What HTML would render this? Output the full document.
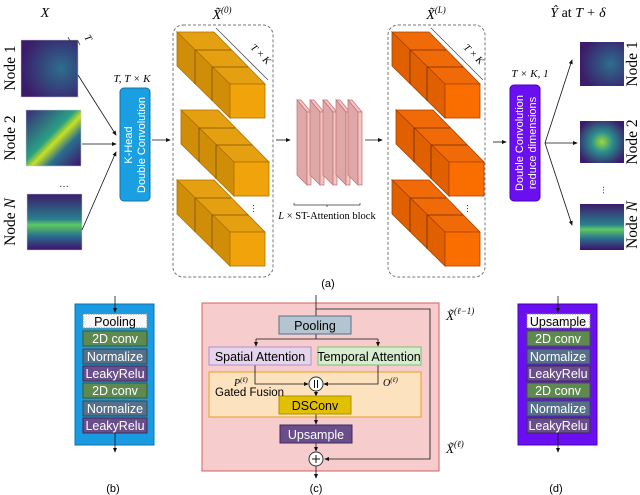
<!DOCTYPE html>
<html><head><meta charset="utf-8"><style>
body{margin:0;background:#fff}
svg{display:block;font-family:"Liberation Sans",sans-serif}
.m{font-family:"Liberation Serif",serif;font-style:italic}
</style></head><body>
<svg width="640" height="495" viewBox="0 0 640 495" xmlns="http://www.w3.org/2000/svg">
<defs>
<marker id="a" markerWidth="6" markerHeight="6" refX="5" refY="3" orient="auto"><path d="M0,0.5L6,3L0,5.5z" fill="#111"/></marker>
<radialGradient id="h1" cx="0.7" cy="0.5" r="0.7"><stop offset="0" stop-color="#2d6e8e"/><stop offset="1" stop-color="#3b1c6a"/></radialGradient>
<linearGradient id="h2" x1="0" y1="0" x2="1" y2="1"><stop offset="0" stop-color="#3a2a78"/><stop offset="0.45" stop-color="#2aa083"/><stop offset="0.55" stop-color="#c8e020"/><stop offset="0.7" stop-color="#2a6f8e"/><stop offset="1" stop-color="#40106a"/></linearGradient>
<linearGradient id="h3" x1="0" y1="0" x2="0" y2="1"><stop offset="0" stop-color="#3b1c6a"/><stop offset="0.45" stop-color="#2a7f8e"/><stop offset="0.55" stop-color="#5ec962"/><stop offset="0.75" stop-color="#2a6f8e"/><stop offset="1" stop-color="#40106a"/></linearGradient>
<radialGradient id="h4" cx="0.5" cy="0.5" r="0.6"><stop offset="0" stop-color="#9fd93a"/><stop offset="0.4" stop-color="#2a8f8e"/><stop offset="1" stop-color="#3b1c6a"/></radialGradient>
</defs>

<!-- (a) -->
<text x="45" y="17" class="m" font-size="14" text-anchor="middle">X</text>
<g stroke="#ccc" stroke-width="0.5">
<rect x="33" y="51" width="45" height="46" fill="#3b1c6a"/><rect x="29" y="47" width="45" height="46" fill="#3b1c6a"/><rect x="25" y="43" width="45" height="46" fill="#3b1c6a"/>
<rect x="21" y="40" width="57" height="57" fill="url(#h1)"/>
<rect x="38" y="122" width="43" height="44" fill="#3b1c6a"/><rect x="34" y="118" width="43" height="44" fill="#3b1c6a"/><rect x="30" y="114" width="43" height="44" fill="#3b1c6a"/><rect x="26" y="110" width="55" height="56" fill="url(#h2)"/>
<rect x="38" y="205" width="43" height="44" fill="#3b1c6a"/><rect x="34" y="201" width="43" height="44" fill="#3b1c6a"/><rect x="27" y="194" width="55" height="56" fill="url(#h3)"/>
</g>
<path d="M68,37 l2,4 h8 l2,4" fill="none" stroke="#333" stroke-width="0.8"/>
<text x="84" y="37" class="m" font-size="10" transform="rotate(60 84 37)">T</text>
<text x="64" y="187" font-size="10" text-anchor="middle">…</text>
<g font-family="Liberation Serif" font-size="15.5">
<text transform="translate(15,68) rotate(-90)" text-anchor="middle">Node 1</text>
<text transform="translate(15,138) rotate(-90)" text-anchor="middle">Node 2</text>
<text transform="translate(15,222) rotate(-90)" text-anchor="middle">Node <tspan font-style="italic">N</tspan></text>
<text transform="translate(637,64) rotate(-90)" text-anchor="middle">Node 1</text>
<text transform="translate(637,142) rotate(-90)" text-anchor="middle">Node 2</text>
<text transform="translate(637,225) rotate(-90)" text-anchor="middle">Node <tspan font-style="italic">N</tspan></text>
</g>
<g stroke="#111" stroke-width="0.8" marker-end="url(#a)" fill="none">
<line x1="78" y1="75" x2="116" y2="135"/>
<line x1="82" y1="144" x2="116" y2="144"/>
<line x1="82" y1="230" x2="116" y2="152"/>
<line x1="152" y1="140" x2="170" y2="140"/>
<line x1="276" y1="140" x2="290" y2="140"/>
<line x1="365" y1="140" x2="382" y2="140"/>
<line x1="493" y1="142" x2="506" y2="142"/>
<path d="M545,143 L572,60" /><path d="M545,143 L577,143"/><path d="M545,143 L572,225"/>
</g>
<text x="132" y="82" class="m" font-size="11" text-anchor="middle">T, T × K</text>
<rect x="120" y="88" width="30" height="113" rx="4" fill="#1aa0e0" stroke="#1670b0"/>
<text transform="translate(132,145) rotate(-90)" fill="#fff" font-size="11" text-anchor="middle">K-Head</text>
<text transform="translate(145,145) rotate(-90)" fill="#fff" font-size="11" text-anchor="middle">Double Convolution</text>

<text x="222" y="19" class="m" font-size="14" text-anchor="middle">X̃<tspan font-size="9" dy="-6">(0)</tspan></text>
<rect x="173" y="25" width="100" height="252" rx="10" fill="none" stroke="#777" stroke-dasharray="3,2"/>
<g stroke="#b07000" stroke-width="0.8">
<g>
<polygon points="177,32 214,32 265,84 230,84" fill="#e4a010"/>
<polygon points="177,32 230,84 230,118 177,66" fill="#d08e08"/>
<rect x="230" y="84" width="35" height="34" fill="#f0a30a"/>
<path d="M195,50 v34 M212,67 v34 M195,50 h36 M212,67 h36" stroke="#7a5000" fill="none"/>
</g>
<g transform="translate(4,78)">
<polygon points="177,32 214,32 265,84 230,84" fill="#e4a010"/>
<polygon points="177,32 230,84 230,118 177,66" fill="#d08e08"/>
<rect x="230" y="84" width="35" height="34" fill="#f0a30a"/>
<path d="M195,50 v34 M212,67 v34 M195,50 h36 M212,67 h36" stroke="#7a5000" fill="none"/>
</g>
<g transform="translate(0,148)">
<polygon points="177,32 214,32 265,84 230,84" fill="#e4a010"/>
<polygon points="177,32 230,84 230,118 177,66" fill="#d08e08"/>
<rect x="230" y="84" width="35" height="34" fill="#f0a30a"/>
<path d="M195,50 v34 M212,67 v34 M195,50 h36 M212,67 h36" stroke="#7a5000" fill="none"/>
</g>
</g>
<path d="M216,28 l52,52" stroke="#555" fill="none" stroke-width="0.8"/>
<text x="250" y="48" class="m" font-size="10" transform="rotate(45 250 48)">T × K</text>
<text x="254" y="213" font-size="9" transform="rotate(-90 254 213)">…</text>

<!-- pink stack -->
<g fill="#f5c4c4" stroke="#c07070" stroke-width="0.7">
<g><polygon points="297,100 301,100 311,112 307,112"/><polygon points="297,100 307,112 307,185 297,175" fill="#dfa8a8"/><rect x="307" y="112" width="4" height="73"/></g>
<g transform="translate(13,0)"><polygon points="297,100 301,100 311,112 307,112"/><polygon points="297,100 307,112 307,185 297,175" fill="#dfa8a8"/><rect x="307" y="112" width="4" height="73"/></g>
<g transform="translate(26,0)"><polygon points="297,100 301,100 311,112 307,112"/><polygon points="297,100 307,112 307,185 297,175" fill="#dfa8a8"/><rect x="307" y="112" width="4" height="73"/></g>
<g transform="translate(39,0)"><polygon points="297,100 301,100 311,112 307,112"/><polygon points="297,100 307,112 307,185 297,175" fill="#dfa8a8"/><rect x="307" y="112" width="4" height="73"/></g>
<g transform="translate(51,0)"><polygon points="297,100 301,100 311,112 307,112"/><polygon points="297,100 307,112 307,185 297,175" fill="#dfa8a8"/><rect x="307" y="112" width="4" height="73"/></g>
</g>
<path d="M294,203 v2 h66 v-2 M327,205 v2" stroke="#333" fill="none" stroke-width="0.7"/>
<text x="327" y="219" font-family="Liberation Serif" font-size="10.5" text-anchor="middle"><tspan font-style="italic">L</tspan> × ST-Attention block</text>

<text x="436" y="19" class="m" font-size="14" text-anchor="middle">X̃<tspan font-size="9" dy="-6">(L)</tspan></text>
<rect x="388" y="25" width="97" height="252" rx="10" fill="none" stroke="#777" stroke-dasharray="3,2"/>
<g stroke="#a84000" stroke-width="0.8">
<g transform="translate(215,0)">
<polygon points="177,32 214,32 265,84 230,84" fill="#f06a08"/>
<polygon points="177,32 230,84 230,118 177,66" fill="#e06000"/>
<rect x="230" y="84" width="35" height="34" fill="#fa6e00"/>
<path d="M195,50 v34 M212,67 v34 M195,50 h36 M212,67 h36" stroke="#6a2a00" fill="none"/>
</g>
<g transform="translate(219,78)">
<polygon points="177,32 214,32 265,84 230,84" fill="#f06a08"/>
<polygon points="177,32 230,84 230,118 177,66" fill="#e06000"/>
<rect x="230" y="84" width="35" height="34" fill="#fa6e00"/>
<path d="M195,50 v34 M212,67 v34 M195,50 h36 M212,67 h36" stroke="#6a2a00" fill="none"/>
</g>
<g transform="translate(215,148)">
<polygon points="177,32 214,32 265,84 230,84" fill="#f06a08"/>
<polygon points="177,32 230,84 230,118 177,66" fill="#e06000"/>
<rect x="230" y="84" width="35" height="34" fill="#fa6e00"/>
<path d="M195,50 v34 M212,67 v34 M195,50 h36 M212,67 h36" stroke="#6a2a00" fill="none"/>
</g>
</g>
<path d="M431,28 l52,52" stroke="#555" fill="none" stroke-width="0.8"/>
<text x="463" y="48" class="m" font-size="10" transform="rotate(45 463 48)">T × K</text>
<text x="468" y="213" font-size="9" transform="rotate(-90 468 213)">…</text>

<text x="530" y="77" class="m" font-size="11" text-anchor="middle">T × K, 1</text>
<rect x="510" y="85" width="30" height="116" rx="4" fill="#6a10f0" stroke="#4a00c0"/>
<text transform="translate(523,143) rotate(-90)" fill="#fff" font-size="11" text-anchor="middle">Double Convolution</text>
<text transform="translate(536,143) rotate(-90)" fill="#fff" font-size="11" text-anchor="middle">reduce dimensions</text>

<text x="578" y="17" class="m" font-size="14" text-anchor="middle">Ŷ <tspan font-style="normal">at</tspan> T + δ</text>
<rect x="580" y="42" width="44" height="44" fill="url(#h1)"/>
<rect x="580" y="121" width="44" height="42" fill="url(#h4)"/>
<rect x="580" y="204" width="44" height="46" fill="url(#h3)"/>
<text x="602" y="192" font-size="9" text-anchor="middle" transform="rotate(-90 602 190)">…</text>
<text x="328" y="287" font-size="11" text-anchor="middle">(a)</text>

<!-- (b) (d) -->
<g font-size="12.5" text-anchor="middle">
<rect x="75" y="304" width="79" height="141" fill="#1a9ae0" stroke="#1070b0"/>
<rect x="83" y="314" width="64" height="14" fill="#f8f8f8" stroke="#888" stroke-dasharray="1.5,1"/><text x="115" y="326">Pooling</text>
<rect x="83" y="331" width="64" height="15" fill="#5e8a50" stroke="#3a5a30"/><text x="115" y="343" fill="#fff">2D conv</text>
<rect x="83" y="349" width="64" height="15" fill="#56708a" stroke="#34485a"/><text x="115" y="361" fill="#fff">Normalize</text>
<rect x="83" y="366" width="64" height="15" fill="#6a4e8c" stroke="#3e2a5a"/><text x="115" y="378" fill="#fff">LeakyRelu</text>
<rect x="83" y="383" width="64" height="15" fill="#5e8a50" stroke="#3a5a30"/><text x="115" y="395" fill="#fff">2D conv</text>
<rect x="83" y="401" width="64" height="15" fill="#56708a" stroke="#34485a"/><text x="115" y="413" fill="#fff">Normalize</text>
<rect x="83" y="418" width="64" height="15" fill="#6a4e8c" stroke="#3e2a5a"/><text x="115" y="430" fill="#fff">LeakyRelu</text>
<text x="113" y="492" font-size="11">(b)</text>

<rect x="518" y="304" width="79" height="141" fill="#6a10f0" stroke="#4a00c0"/>
<rect x="527" y="314" width="63" height="14" fill="#f8f8f8" stroke="#888" stroke-dasharray="1.5,1"/><text x="558" y="326">Upsample</text>
<rect x="527" y="331" width="63" height="15" fill="#5e8a50" stroke="#3a5a30"/><text x="558" y="343" fill="#fff">2D conv</text>
<rect x="527" y="349" width="63" height="15" fill="#56708a" stroke="#34485a"/><text x="558" y="361" fill="#fff">Normalize</text>
<rect x="527" y="366" width="63" height="15" fill="#6a4e8c" stroke="#3e2a5a"/><text x="558" y="378" fill="#fff">LeakyRelu</text>
<rect x="527" y="383" width="63" height="15" fill="#5e8a50" stroke="#3a5a30"/><text x="558" y="395" fill="#fff">2D conv</text>
<rect x="527" y="401" width="63" height="15" fill="#56708a" stroke="#34485a"/><text x="558" y="413" fill="#fff">Normalize</text>
<rect x="527" y="418" width="63" height="15" fill="#6a4e8c" stroke="#3e2a5a"/><text x="558" y="430" fill="#fff">LeakyRelu</text>
<text x="556" y="492" font-size="11">(d)</text>
</g>
<g stroke="#111" stroke-width="0.8" marker-end="url(#a)">
<line x1="115" y1="296" x2="115" y2="312"/><line x1="115" y1="433" x2="115" y2="452"/>
<line x1="558" y1="296" x2="558" y2="312"/><line x1="558" y1="433" x2="558" y2="452"/>
</g>

<!-- (c) -->
<rect x="202" y="303" width="237" height="168" fill="#f7cccc" stroke="#d06060"/>
<rect x="209" y="372" width="212" height="45" fill="#fde2c0" stroke="#e8a020"/>
<g stroke="#111" stroke-width="0.8" fill="none">
<line x1="316" y1="295" x2="316" y2="316"/>
<path d="M316,309 H430 V459 H325" marker-end="url(#a)"/>
<path d="M316,334 V339 H256 M316,339 H378" />
<path d="M256,339 V346" marker-end="url(#a)"/><path d="M378,339 V346" marker-end="url(#a)"/>
<path d="M255,365 V384 H308" marker-end="url(#a)"/>
<path d="M378,365 V384 H324" marker-end="url(#a)"/>
<path d="M316,391 V396" marker-end="url(#a)"/>
<path d="M316,414 V424" marker-end="url(#a)"/>
<path d="M316,443 V451" marker-end="url(#a)"/>
<path d="M316,466 V478" marker-end="url(#a)"/>
</g>
<g font-size="12.5" text-anchor="middle">
<rect x="279" y="316" width="72" height="18" fill="#b4c4d0" stroke="#56708a"/><text x="315" y="330">Pooling</text>
<rect x="209" y="347" width="102" height="18" fill="#e4d4ec" stroke="#b090c8"/><text x="260" y="361">Spatial Attention</text>
<rect x="318" y="347" width="103" height="18" fill="#d8ecd0" stroke="#80c070"/><text x="369" y="361">Temporal Attention</text>
<rect x="279" y="396" width="72" height="18" fill="#e0c000" stroke="#b09000"/><text x="315" y="410">DSConv</text>
<rect x="280" y="425" width="72" height="18" fill="#6a4e8c" stroke="#3e2a5a"/><text x="316" y="439" fill="#fff">Upsample</text>
<text x="215" y="396" text-anchor="start" font-size="11.5">Gated Fusion</text>
<text x="316" y="492" font-size="11">(c)</text>
</g>
<circle cx="316" cy="384" r="7" fill="#fff" stroke="#333"/>
<path d="M314.5,380 v8 M317.5,380 v8" stroke="#111"/>
<circle cx="316" cy="459" r="7" fill="#fff" stroke="#333"/>
<path d="M312,459 h8 M316,455 v8" stroke="#111"/>
<text x="234" y="386" class="m" font-size="10">P<tspan font-size="7" dy="-4">(ℓ)</tspan></text>
<text x="383" y="386" class="m" font-size="10">O<tspan font-size="7" dy="-4">(ℓ)</tspan></text>
<text x="446" y="320" class="m" font-size="13">X̃<tspan font-size="9" dy="-6">(ℓ−1)</tspan></text>
<text x="446" y="453" class="m" font-size="13">X̃<tspan font-size="9" dy="-6">(ℓ)</tspan></text>
</svg>
</body></html>
